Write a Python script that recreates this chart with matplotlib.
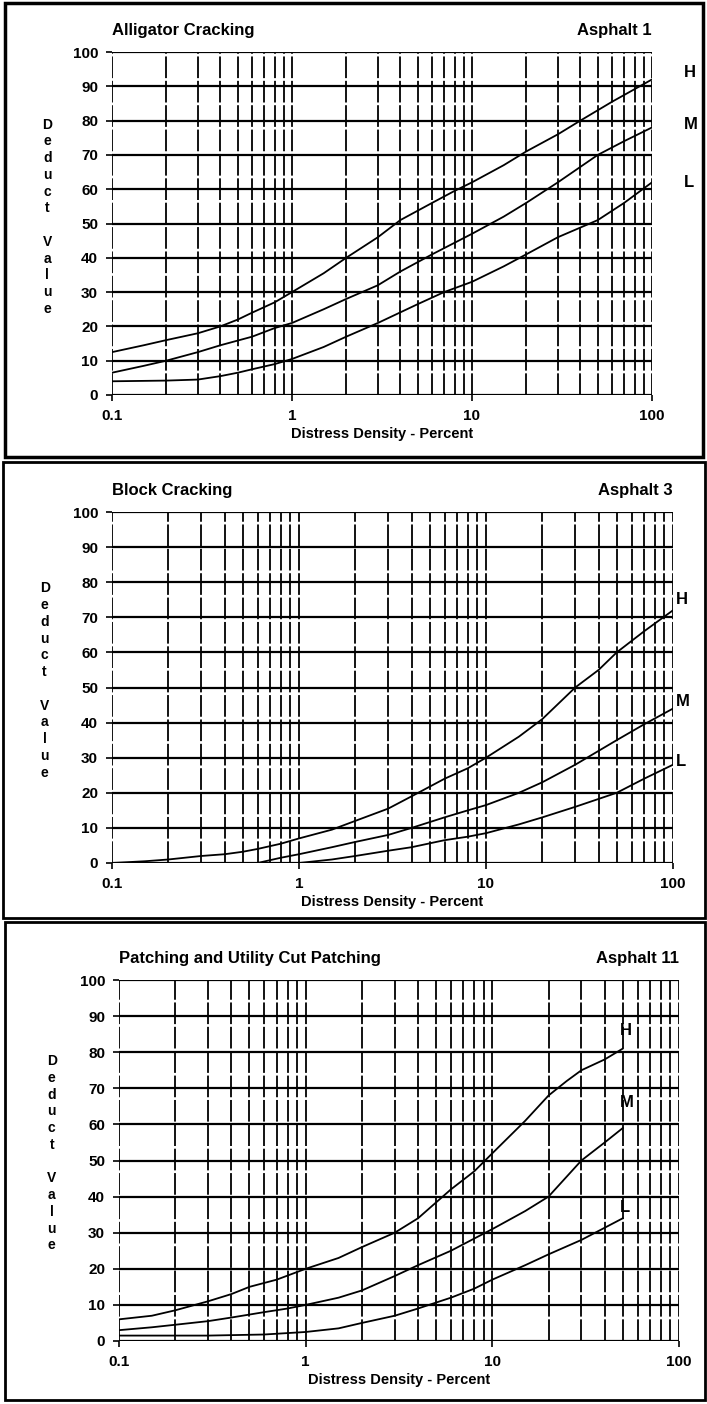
import numpy as np
import matplotlib.pyplot as plt
from matplotlib.patches import Rectangle

plt.rcParams['font.family'] = ['Liberation Sans', 'DejaVu Sans']
plt.rcParams['font.weight'] = 'bold'

# ---- data ----
allig_x_h = [0.1, 0.15, 0.2, 0.3, 0.4, 0.5, 0.6, 0.8, 1, 1.5, 2, 3, 4, 6, 8, 10, 15, 20, 30, 40, 60, 100]
allig_h = [12.5, 14.5, 16, 18, 20, 22, 24, 27, 30, 35.5, 40, 46, 51, 56, 59.5, 62, 67, 71, 76, 80, 85.5, 92]
allig_x_m = [0.1, 0.15, 0.2, 0.3, 0.4, 0.6, 0.8, 1, 1.5, 2, 3, 4, 6, 10, 15, 20, 30, 50, 70, 100]
allig_m = [6.5, 8.5, 10, 12.5, 14.5, 17, 19.5, 21, 25, 28, 32, 36, 41, 47, 52, 56, 62, 70, 74, 78]
allig_x_l = [0.1, 0.2, 0.3, 0.4, 0.5, 0.6, 0.8, 1, 1.5, 2, 3, 5, 7, 10, 15, 20, 30, 50, 70, 100]
allig_l = [4, 4.2, 4.5, 5.5, 6.5, 7.5, 9, 10.5, 14, 17, 21, 26.5, 30, 33, 37.5, 41, 46, 51, 56, 62]

block_x_h = [0.1, 0.15, 0.2, 0.3, 0.4, 0.5, 0.6, 0.8, 1, 1.5, 2, 3, 4, 6, 8, 10, 15, 20, 30, 40, 50, 70, 100]
block_h = [0, 0.5, 1, 2, 2.5, 3.2, 4, 5.5, 7, 9.5, 12, 15.5, 19, 24, 27, 30, 36, 41, 50, 55, 60, 66, 72]
block_x_m = [0.6, 0.8, 1, 1.5, 2, 3, 4, 6, 8, 10, 15, 20, 30, 50, 70, 100]
block_m = [0, 1.5, 2.5, 4.5, 6, 8, 10, 13, 15, 16.5, 20, 23, 28, 35, 39.5, 44]
block_x_l = [1, 1.5, 2, 3, 4, 6, 8, 10, 15, 20, 30, 50, 70, 100]
block_l = [0, 1, 2, 3.5, 4.5, 6.5, 7.5, 8.5, 11, 13, 16, 20, 24, 28]

patch_x_h = [0.1, 0.15, 0.2, 0.3, 0.4, 0.5, 0.7, 1, 1.5, 2, 3, 4, 6, 8, 10, 15, 20, 25, 30, 40, 50]
patch_h = [6, 7, 8.5, 11, 13, 15, 17, 20, 23, 26, 30, 34, 42, 47, 52, 61, 68, 72, 75, 78, 81]
patch_x_m = [0.1, 0.15, 0.2, 0.3, 0.4, 0.6, 0.8, 1, 1.5, 2, 3, 4, 6, 10, 15, 20, 30, 40, 50]
patch_m = [3, 3.8, 4.5, 5.5, 6.5, 8, 9, 10, 12, 14, 18, 21, 25, 31, 36, 40, 50, 55, 59]
patch_x_l = [0.1, 0.3, 0.6, 1, 1.5, 2, 3, 4, 6, 8, 10, 15, 20, 30, 50]
patch_l = [1.5, 1.5, 1.8, 2.5, 3.5, 5, 7, 9, 12, 14.5, 17, 21, 24, 28, 34]

W, H = 707, 1404
fig = plt.figure(figsize=(W / 100, H / 100), dpi=100)


def box(x0, y0, x1, y1, lw=1.5):
    fig.patches.append(Rectangle((x0 / W, 1 - y1 / H), (x1 - x0) / W, (y1 - y0) / H,
                                 transform=fig.transFigure, fill=False,
                                 edgecolor='black', linewidth=lw))


def panel(left, right, top, bottom, title, tag, curves, labels, xticklbl):
    ax = fig.add_axes([left / W, 1 - bottom / H, (right - left) / W, (bottom - top) / H])
    ax.set_xscale('log')
    ax.set_xlim(0.1, 100)
    ax.set_ylim(0, 100)
    minors = [m * 10.0 ** e for e in (-1, 0, 1) for m in range(1, 10)] + [100]
    for v in minors:
        ax.axvline(v, color='black', lw=1.3, ls=(0, (12, 1.5)), zorder=1)
    for v in range(0, 101, 10):
        ax.axhline(v, color='black', lw=1.6, zorder=1)
    for xs, ys in curves:
        ax.plot(xs, ys, color='black', lw=1.3, zorder=3)
    for txt, xx, yy in labels:
        ax.text(xx, yy, txt, fontsize=12, fontweight='bold', ha='left', va='center',
                transform=ax.transData, clip_on=False)
    ax.set_xticks([0.1, 1, 10, 100])
    ax.set_xticklabels(xticklbl, fontsize=11, fontweight='bold')
    ax.set_xticks([], minor=True)
    ax.set_yticks(range(0, 101, 10))
    ax.set_yticklabels([str(v) for v in range(0, 101, 10)], fontsize=11, fontweight='bold')
    ax.tick_params(length=4, width=1.2, pad=6)
    for s in ax.spines.values():
        s.set_visible(False)
    ax.set_xlabel('Distress Density - Percent', fontsize=10.5, fontweight='bold', labelpad=3)
    ax.text(0.0, 1.04, title, transform=ax.transAxes, fontsize=12, fontweight='bold',
            ha='left', va='bottom')
    ax.text(1.0, 1.04, tag, transform=ax.transAxes, fontsize=12, fontweight='bold',
            ha='right', va='bottom')
    ax.text(-0.12, 0.52, "D\ne\nd\nu\nc\nt\n \nV\na\nl\nu\ne", transform=ax.transAxes,
            fontsize=10, fontweight='bold', ha='center', va='center', linespacing=1.25)
    return ax


box(5, 3, 703, 457, lw=2.5)
panel(112, 652, 52, 395, 'Alligator Cracking', 'Asphalt 1',
      [(allig_x_h, allig_h), (allig_x_m, allig_m), (allig_x_l, allig_l)],
      [('H', 150, 94), ('M', 150, 79), ('L', 150, 62)],
      ['0.1', '1', '10', '100'])

box(3, 462, 705, 918, lw=2)
panel(112, 673, 512, 863, 'Block Cracking', 'Asphalt 3',
      [(block_x_h, block_h), (block_x_m, block_m), (block_x_l, block_l)],
      [('H', 103, 75), ('M', 103, 46), ('L', 103, 29)],
      ['0.1', '1', '10', '100'])

box(5, 922, 705, 1400, lw=2)
panel(119, 679, 980, 1341, 'Patching and Utility Cut Patching', 'Asphalt 11',
      [(patch_x_h, patch_h), (patch_x_m, patch_m), (patch_x_l, patch_l)],
      [('H', 48, 86), ('M', 48, 66), ('L', 48, 37)],
      ['0.1', '1', '10', '100'])

fig.savefig('out.png', dpi=100)
